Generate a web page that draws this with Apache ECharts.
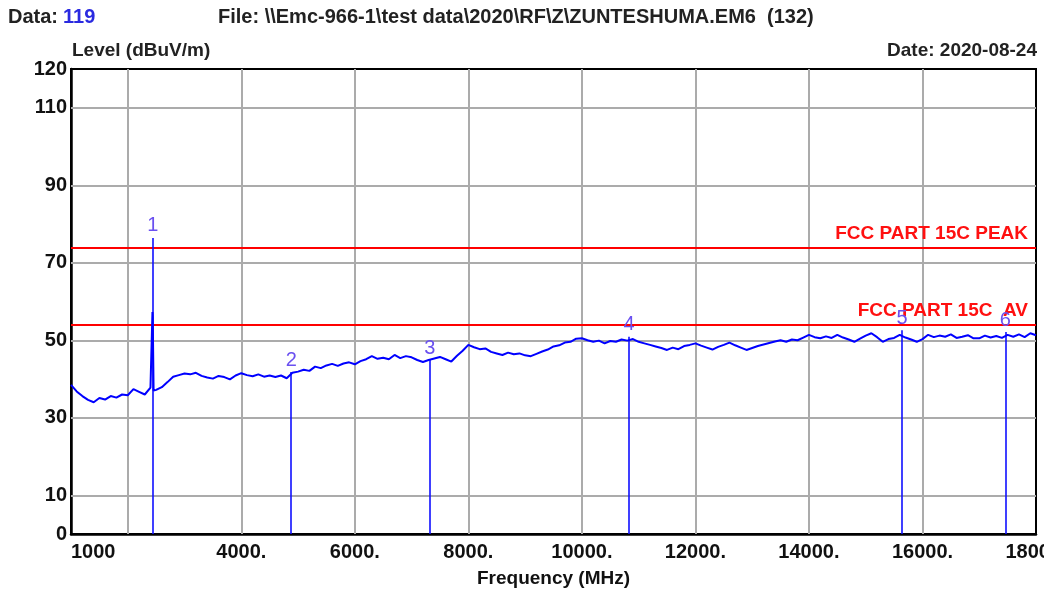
<!DOCTYPE html>
<html>
<head>
<meta charset="utf-8">
<script src="https://cdn.jsdelivr.net/npm/echarts@6/dist/echarts.min.js"></script>
<style>
  html, body { margin: 0; padding: 0; background: #fff; }
  #chart { width: 1044px; height: 589px; }
</style>
</head>
<body>
<div id="chart"></div>
<script>
// sweep trace: [frequency MHz, level dBuV/m]
var trace = [
  [1000, 38.5], [1100, 36.8], [1200, 35.6], [1300, 34.6], [1400, 34.0],
  [1500, 35.1], [1600, 34.7], [1700, 35.6], [1800, 35.2], [1900, 36.0],
  [2000, 35.8], [2100, 37.4], [2200, 36.7], [2300, 36.0], [2400, 37.8],
  [2420, 38.0], [2435, 57.3], [2440, 56.0], [2455, 37.0],
  [2500, 37.2], [2600, 37.9], [2700, 39.2], [2800, 40.6], [2900, 41.0],
  [3000, 41.4], [3100, 41.2], [3200, 41.6], [3300, 40.8], [3400, 40.4],
  [3500, 40.1], [3600, 40.8], [3700, 40.5], [3800, 39.9], [3900, 40.9],
  [4000, 41.5], [4100, 41.0], [4200, 40.7], [4300, 41.2], [4400, 40.6],
  [4500, 40.9], [4600, 40.5], [4700, 40.9], [4800, 40.2], [4900, 41.6],
  [5000, 41.9], [5100, 42.4], [5200, 42.1], [5300, 43.2], [5400, 42.8],
  [5500, 43.5], [5600, 43.9], [5700, 43.4], [5800, 44.0], [5900, 44.3],
  [6000, 43.8], [6100, 44.6], [6200, 45.1], [6300, 45.9], [6400, 45.2],
  [6500, 45.5], [6600, 45.1], [6700, 46.2], [6800, 45.4], [6900, 45.9],
  [7000, 45.6], [7100, 44.9], [7200, 44.4], [7300, 44.9], [7400, 45.3],
  [7500, 45.7], [7600, 45.1], [7700, 44.5], [7800, 46.0], [7900, 47.3],
  [8000, 48.8], [8100, 48.2], [8200, 47.7], [8300, 47.9], [8400, 47.0],
  [8500, 46.6], [8600, 46.2], [8700, 46.8], [8800, 46.4], [8900, 46.6],
  [9000, 46.1], [9100, 45.9], [9200, 46.5], [9300, 47.1], [9400, 47.6],
  [9500, 48.4], [9600, 48.7], [9700, 49.4], [9800, 49.6], [9900, 50.4],
  [10000, 50.5], [10100, 50.0], [10200, 49.6], [10300, 49.9], [10400, 49.2],
  [10500, 49.8], [10600, 49.6], [10700, 50.2], [10800, 49.9], [10900, 50.3],
  [11000, 49.6], [11100, 49.2], [11200, 48.8], [11300, 48.4], [11400, 48.0],
  [11500, 47.5], [11600, 48.1], [11700, 47.7], [11800, 48.5], [11900, 48.8],
  [12000, 49.2], [12100, 48.6], [12200, 48.1], [12300, 47.6], [12400, 48.3],
  [12500, 48.8], [12600, 49.4], [12700, 48.7], [12800, 48.1], [12900, 47.5],
  [13000, 48.0], [13100, 48.5], [13200, 48.9], [13300, 49.3], [13400, 49.7],
  [13500, 50.0], [13600, 49.6], [13700, 50.2], [13800, 50.0], [13900, 50.7],
  [14000, 51.4], [14100, 50.8], [14200, 50.5], [14300, 51.0], [14400, 50.6],
  [14500, 51.4], [14600, 50.7], [14700, 50.2], [14800, 49.6], [14900, 50.4],
  [15000, 51.2], [15100, 51.8], [15200, 50.8], [15300, 49.6], [15400, 50.3],
  [15500, 50.6], [15600, 51.4], [15700, 50.7], [15800, 50.2], [15900, 49.6],
  [16000, 50.3], [16100, 51.4], [16200, 50.8], [16300, 51.2], [16400, 50.9],
  [16500, 51.5], [16600, 50.6], [16700, 50.9], [16800, 51.3], [16900, 50.5],
  [17000, 50.5], [17100, 51.2], [17200, 50.7], [17300, 51.1], [17400, 50.6],
  [17500, 51.4], [17600, 50.9], [17700, 51.5], [17800, 50.8], [17900, 51.8],
  [18000, 51.3]
]

// marker peaks
var markerNo = ['1', '2', '3', '4', '5', '6']
var markerFreq = [2440, 4880, 7320, 10830, 15640, 17460]
var markerLevel = [76.4, 41.8, 44.9, 50.9, 52.6, 52.1]

// limit lines
var limitNames = ['FCC PART 15C PEAK', 'FCC PART 15C  AV']
var limitLevels = [74, 54]

// axis ticks / grid
var xTickLabels = { 1000: '1000', 4000: '4000.', 6000: '6000.', 8000: '8000.', 10000: '10000.', 12000: '12000.', 14000: '14000.', 16000: '16000.', 18000: '18000.' }
var yTickLabels = [0, 10, 30, 50, 70, 90, 110, 120]
var gridFreqs = [2000, 4000, 6000, 8000, 10000, 12000, 14000, 16000]
var gridLevels = [10, 30, 50, 70, 90, 110]

var FONT = '"Liberation Sans", Arial, sans-serif'

var myChart = echarts.init(document.getElementById('chart'), null, { renderer: 'canvas' })

var gridLines = gridFreqs.map(function (f) { return { xAxis: f } })
  .concat(gridLevels.map(function (v) { return { yAxis: v } }))

var markerLines = markerFreq.map(function (f, i) {
  return [
    { coord: [f, 0] },
    { coord: [f, markerLevel[i]], name: markerNo[i] }
  ]
})

var option = {
  animation: false,
  backgroundColor: '#fff',
  grid: {
    left: 71,
    right: 8,
    top: 69,
    bottom: 55,
    outerBoundsMode: 'none',
    containLabel: false,
    show: true,
    borderColor: '#000',
    borderWidth: 2,
    backgroundColor: 'transparent'
  },
  xAxis: {
    type: 'value',
    min: 1000,
    max: 18000,
    interval: 1000,
    name: 'Frequency (MHz)',
    nameLocation: 'middle',
    nameGap: 35,
    nameTextStyle: { fontFamily: FONT, fontSize: 19, fontWeight: 'bold', color: '#111' },
    axisLine: { onZero: false, lineStyle: { color: '#000', width: 2.5 } },
    axisTick: { show: false },
    splitLine: { show: false },
    axisLabel: {
      margin: 8,
      fontFamily: FONT,
      fontSize: 20,
      fontWeight: 'bold',
      color: '#111',
      alignMinLabel: 'left',
      showMinLabel: true,
      showMaxLabel: true,
      hideOverlap: false,
      formatter: function (v) { return xTickLabels[v] || '' }
    }
  },
  yAxis: {
    type: 'value',
    min: 0,
    max: 120,
    interval: 10,
    axisLine: { show: true, lineStyle: { color: '#000', width: 2.5 } },
    axisTick: { show: false },
    splitLine: { show: false },
    axisLabel: {
      margin: 4,
      fontFamily: FONT,
      fontSize: 20,
      fontWeight: 'bold',
      color: '#111',
      formatter: function (v) { return yTickLabels.indexOf(v) >= 0 ? String(v) : '' }
    }
  },
  graphic: [
    { type: 'text', left: 8, top: 7, style: { text: 'Data:', font: 'bold 20px ' + FONT, fill: '#222' } },
    { type: 'text', left: 63, top: 7, style: { text: '119', font: 'bold 20px ' + FONT, fill: '#2a2ae0' } },
    { type: 'text', left: 218, top: 7, style: { text: 'File: \\\\Emc-966-1\\test data\\2020\\RF\\Z\\ZUNTESHUMA.EM6  (132)', font: 'bold 20px ' + FONT, fill: '#222' } },
    { type: 'text', left: 72, top: 41, style: { text: 'Level (dBuV/m)', font: 'bold 19px ' + FONT, fill: '#222' } },
    { type: 'text', right: 7, top: 41, style: { text: 'Date: 2020-08-24', font: 'bold 19px ' + FONT, fill: '#222' } }
  ],
  series: [
    {
      name: 'grid',
      type: 'line',
      data: [],
      silent: true,
      z: 1,
      markLine: {
        silent: true,
        z: 1,
        symbol: 'none',
        label: { show: false },
        lineStyle: { color: '#ababab', width: 2, type: 'solid' },
        data: gridLines
      }
    },
    {
      name: 'limits',
      type: 'line',
      data: [],
      silent: true,
      z: 2,
      markLine: {
        silent: true,
        z: 2,
        symbol: 'none',
        lineStyle: { color: '#ff0000', width: 2, type: 'solid' },
        label: {
          show: true,
          position: 'insideEndTop',
          distance: [8, 4],
          formatter: '{b}',
          color: '#ff1010',
          fontFamily: FONT,
          fontSize: 19,
          fontWeight: 'bold'
        },
        data: limitLevels.map(function (v, i) { return { yAxis: v, name: limitNames[i] } })
      }
    },
    {
      name: 'Level',
      type: 'line',
      data: trace,
      showSymbol: false,
      symbol: 'none',
      z: 4,
      lineStyle: { color: '#0000ff', width: 2 },
      markLine: {
        silent: true,
        z: 4,
        symbol: 'none',
        lineStyle: { color: '#1010ff', width: 1.6, type: 'solid' },
        label: {
          show: true,
          position: 'end',
          distance: 2,
          formatter: '{b}',
          color: '#6a50f0',
          fontFamily: FONT,
          fontSize: 20
        },
        data: markerLines
      }
    }
  ]
}

myChart.setOption(option)
</script>
</body>
</html>
